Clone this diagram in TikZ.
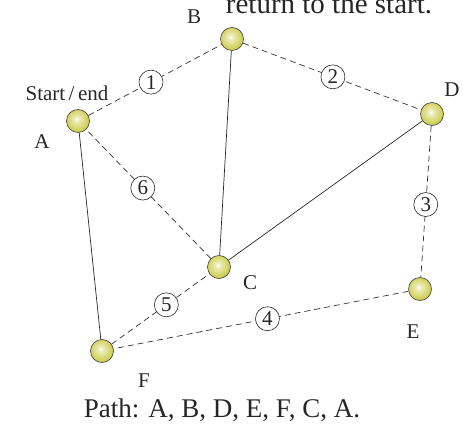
\documentclass[tikz,border=0pt]{standalone}
\usepackage{fontspec}
\setmainfont{Liberation Serif}
\definecolor{ballmid}{RGB}{210,210,95}
\definecolor{balledge}{RGB}{170,170,45}
\pgfdeclareradialshading{yellowball}{\pgfpoint{-3bp}{4bp}}{color(0bp)=(white); color(5bp)=(white!60!ballmid); color(22bp)=(ballmid); color(50bp)=(balledge); color(100bp)=(balledge)}
\tikzset{
  ball/.style={circle, draw=black!75, line width=0.6pt, minimum size=23pt, inner sep=0pt, shading=yellowball},
  lbl/.style={font=\fontsize{21}{24}\selectfont, text=black!85, inner sep=0pt},
  num/.style={circle, solid, draw=black!85, fill=white, line width=0.6pt, minimum size=24pt, inner sep=0pt, font=\fontsize{21}{23}\selectfont, text=black!85},
  pathedge/.style={dash pattern=on 6pt off 4pt, line width=0.7pt, draw=black!80},
  plainedge/.style={line width=0.7pt, draw=black!85}
}
\begin{document}
\begin{tikzpicture}[x=1pt,y=-1pt]
\useasboundingbox (0,0) rectangle (470,427);
\node[font=\fontsize{29}{32}\selectfont, text=black!85, anchor=base, inner sep=0pt] (top) at (329,14) {return to the start.};
\node[ball] (A) at (78,121) {};
\node[ball] (B) at (232,39) {};
\node[ball] (D) at (432,114) {};
\node[ball] (C) at (219,267) {};
\node[ball] (E) at (420,289) {};
\node[ball] (F) at (102,351) {};
\draw[plainedge] (A) -- (F);
\draw[plainedge] (B) -- (C);
\draw[plainedge] (C) -- (D);
\draw[pathedge] (A) -- node[num, pos=0.47] (n1) {1} (B);
\draw[pathedge] (B) -- node[num, pos=0.505] (n2) {2} (D);
\draw[pathedge] (D) -- node[num, pos=0.52] (n3) {3} (E);
\draw[pathedge] (E) -- node[num, pos=0.478] (n4) {4} (F);
\draw[pathedge] (F) -- node[num, pos=0.56] (n5) {5} (C);
\draw[pathedge] (C) -- node[num, pos=0.546] (n6) {6} (A);
\node[lbl] (lB) at (194,17) {B};
\node[lbl] (lS) at (67,93) {Start\,/\,end};
\node[lbl] (lA) at (42,142) {A};
\node[lbl] (lD) at (452,90) {D};
\node[lbl] (lC) at (250,283) {C};
\node[lbl] (lE) at (413,332) {E};
\node[lbl] (lF) at (144,381) {F};
\node[font=\fontsize{27}{30}\selectfont, text=black!85, inner sep=0pt] (cap) at (222,410) {Path: A, B, D, E, F, C, A.};
\end{tikzpicture}
\end{document}
